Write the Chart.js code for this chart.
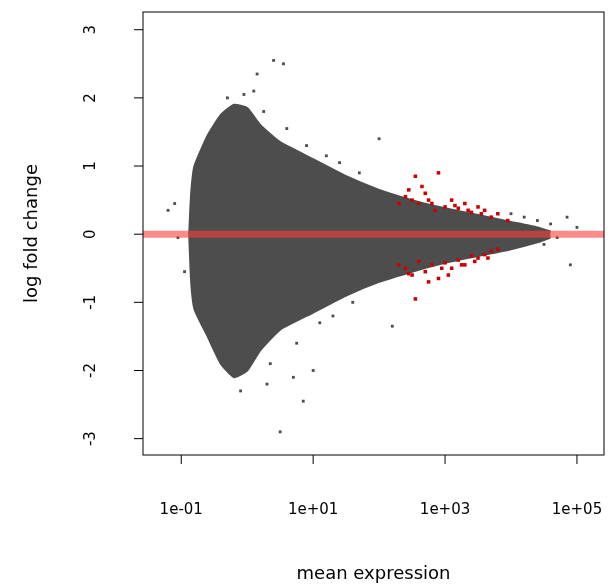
<!DOCTYPE html>
<html>
<head>
<meta charset="utf-8">
<script src="https://cdn.jsdelivr.net/npm/chart.js@4/dist/chart.umd.min.js"></script>
<style>
  html, body { margin: 0; padding: 0; background: #fff; }
  #wrap { width: 615px; height: 587px; }
</style>
</head>
<body>
<div id="wrap"><canvas id="ma"></canvas></div>
<script>
// log10(mean expression) along the cloud, with its upper and lower edge in log fold change
const envLog   = [-0.88, -0.85, -0.8, -0.6, -0.4, -0.2, 0, 0.2, 0.5, 1.0, 1.5, 2.0, 2.5, 3.0, 3.5, 4.0, 4.4, 4.6];
const envUpper = [0.0, 0.6, 1.0, 1.45, 1.75, 1.9, 1.85, 1.6, 1.35, 1.1, 0.85, 0.65, 0.5, 0.38, 0.28, 0.18, 0.1, 0.04];
const envLower = [0.0, -0.7, -1.1, -1.5, -1.9, -2.1, -2.0, -1.7, -1.4, -1.15, -0.9, -0.7, -0.55, -0.42, -0.32, -0.22, -0.12, -0.05];

// scattered grey points outside the dense cloud
const greyLog = [-1.2, -1.1, -1.05, -0.95, 0.15, 0.4, 0.55, 0.7, 0.5, 0.85, 1.0, 2.0, 2.2, 4.0, 4.4, 4.6, 4.85, 4.9, 5.0, 4.7, -0.3, 0.1, -0.1, 0.3,
                 -0.05, 0.25, 0.6, 0.9, 1.2, 1.4, 1.7, 0.35, 0.75, 1.1, 1.3, 1.6, 4.2, 4.5];
const greyLfc = [0.35, 0.45, -0.05, -0.55, 2.35, 2.55, 2.5, -2.1, -2.9, -2.45, -2.0, 1.4, -1.35, 0.3, 0.2, 0.15, 0.25, -0.45, 0.1, -0.05, 2.0, 2.1, -2.3, -2.2,
                 2.05, 1.8, 1.55, 1.3, 1.15, 1.05, 0.9, -1.9, -1.6, -1.3, -1.2, -1.0, 0.25, -0.15];

// significant genes (red)
const redLog = [2.3, 2.4, 2.5, 2.55, 2.6, 2.7, 2.8, 2.9, 3.0, 3.1, 3.2, 3.3, 3.4, 3.5, 3.6, 3.7, 3.8, 3.95, 2.65, 2.85, 2.45, 2.75, 3.15, 3.35, 3.55,
                2.3, 2.4, 2.5, 2.6, 2.7, 2.8, 2.9, 3.0, 3.1, 3.2, 3.3, 3.4, 3.5, 3.6, 3.7, 3.8, 2.55, 2.75, 3.05, 3.25, 2.45, 2.95, 3.45, 3.65];
const redLfc = [0.45, 0.55, 0.5, 0.85, 0.45, 0.6, 0.45, 0.9, 0.4, 0.5, 0.38, 0.45, 0.32, 0.4, 0.35, 0.25, 0.3, 0.2, 0.7, 0.35, 0.65, 0.5, 0.42, 0.35, 0.3,
                -0.45, -0.5, -0.6, -0.4, -0.55, -0.45, -0.65, -0.42, -0.5, -0.38, -0.45, -0.32, -0.35, -0.3, -0.25, -0.22, -0.95, -0.7, -0.6, -0.45, -0.58, -0.5, -0.4, -0.35];

const xTicks = [-1, 1, 3, 5];
const xTickLabels = ['1e-01', '1e+01', '1e+03', '1e+05'];
const yTicks = [-3, -2, -1, 0, 1, 2, 3];

const pts = (lx, ly) => lx.map((v, i) => ({ x: Math.pow(10, v), y: ly[i] }));
const grey = '#4d4d4d';

const rAxes = {
  id: 'rAxes',
  afterDraw(chart) {
    const { ctx, chartArea: a, scales: { x, y } } = chart;
    ctx.save();
    ctx.strokeStyle = '#000';
    ctx.lineWidth = 1;
    ctx.strokeRect(a.left, a.top, a.right - a.left, a.bottom - a.top);
    ctx.fillStyle = '#000';
    ctx.font = '15px "DejaVu Sans"';
    ctx.textAlign = 'center';
    ctx.textBaseline = 'middle';
    xTicks.forEach((t, i) => {
      const px = x.getPixelForValue(Math.pow(10, t));
      ctx.beginPath(); ctx.moveTo(px, a.bottom); ctx.lineTo(px, a.bottom + 9); ctx.stroke();
      ctx.fillText(xTickLabels[i], px, a.bottom + 55);
    });
    yTicks.forEach(t => {
      const py = y.getPixelForValue(t);
      ctx.beginPath(); ctx.moveTo(a.left, py); ctx.lineTo(a.left - 9, py); ctx.stroke();
      ctx.save();
      ctx.translate(a.left - 52, py);
      ctx.rotate(-Math.PI / 2);
      ctx.fillText(String(t), 0, 0);
      ctx.restore();
    });
    ctx.font = '18px "DejaVu Sans"';
    ctx.fillText('mean expression', (a.left + a.right) / 2, 574);
    ctx.save();
    ctx.translate(32, (a.top + a.bottom) / 2);
    ctx.rotate(-Math.PI / 2);
    ctx.fillText('log fold change', 0, 0);
    ctx.restore();
    ctx.restore();
  }
};

new Chart(document.getElementById('ma'), {
  type: 'scatter',
  data: {
    datasets: [
      { type: 'line', order: 6, data: pts(envLog, envUpper), borderColor: grey, backgroundColor: grey,
        borderWidth: 2, pointRadius: 0, fill: '+1', tension: 0.15 },
      { type: 'line', order: 5, data: pts(envLog, envLower), borderColor: grey, backgroundColor: grey,
        borderWidth: 2, pointRadius: 0, fill: false, tension: 0.15 },
      { order: 4, data: pts(greyLog, greyLfc), backgroundColor: grey, borderWidth: 0, pointStyle: 'rect', pointRadius: 2 },
      { type: 'line', order: 2, data: [{ x: Math.pow(10, -1.58), y: 0 }, { x: Math.pow(10, 5.41), y: 0 }],
        borderColor: 'rgba(255, 60, 60, 0.6)', borderWidth: 7, pointRadius: 0, fill: false },
      { order: 1, data: pts(redLog, redLfc), backgroundColor: '#cc0000', borderWidth: 0, pointStyle: 'rect', pointRadius: 2.5 }
    ]
  },
  options: {
    responsive: true,
    maintainAspectRatio: false,
    animation: false,
    layout: { padding: { left: 143, right: 11, top: 12, bottom: 132 } },
    scales: {
      x: { type: 'logarithmic', min: Math.pow(10, -1.58), max: Math.pow(10, 5.41), display: false },
      y: { min: -3.24, max: 3.26, display: false }
    },
    plugins: { legend: { display: false }, tooltip: { enabled: false } }
  },
  plugins: [rAxes]
});
</script>
</body>
</html>
